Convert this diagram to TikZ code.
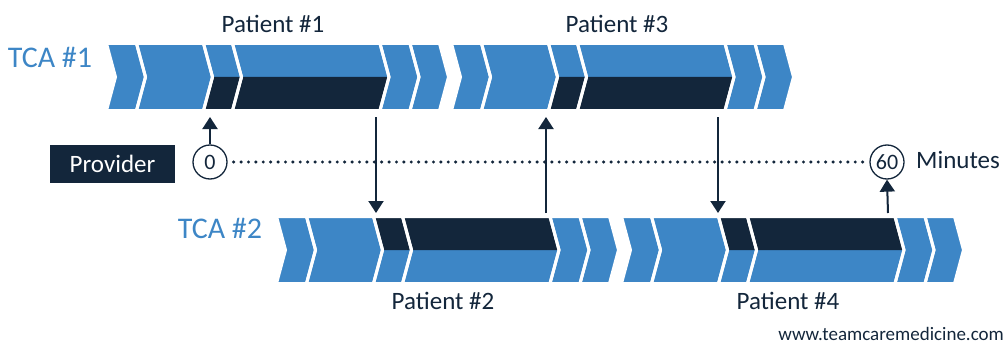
\documentclass[tikz,border=0pt]{standalone}
\usepackage{fontspec}
\setmainfont{Carlito}
\usetikzlibrary{arrows.meta}

\definecolor{tcablue}{HTML}{3D86C6}
\definecolor{navy}{HTML}{13263B}

\tikzset{
  chevfill/.style={fill=tcablue},
  chevdark/.style={fill=navy},
  chevgap/.style={draw=white, line width=3pt},
  tcalabel/.style={text=tcablue, font=\fontsize{30}{34}\selectfont, inner sep=0pt, anchor=base},
  patlabel/.style={text=navy, font=\fontsize{25}{30}\selectfont, inner sep=0pt, anchor=base},
  provbox/.style={fill=navy, text=white, minimum width=125pt, minimum height=38pt,
                  inner sep=0pt, font=\fontsize{25}{30}\selectfont},
  tick/.style={circle, draw=navy, line width=1.3pt, minimum size=34pt, inner sep=0pt,
               text=navy, font=\fontsize{22}{26}\selectfont},
  timeline/.style={draw=navy, line width=3.4pt, line cap=round, dash pattern=on 0pt off 7.4pt},
  handoff/.style={draw=navy, line width=2pt, -{Triangle[width=15pt,length=12pt]}},
}

\begin{document}
\begin{tikzpicture}[x=1pt, y=-1pt]
  \useasboundingbox (0,0) rectangle (1007,345);
  \def\dep{9}

  % chevron bands: group start x, top y, bottom y, row number
  \foreach \gx/\ty/\by/\row in {108/43.5/110.5/1, 453/43.5/110.5/1,
                                278/216.5/283.5/2, 623/216.5/283.5/2} {
    \pgfmathsetmacro\ym{(\ty+\by)/2}
    % fills first
    \foreach \a/\b/\split in {-1.5/28.5/0, 28.5/95.5/0, 95.5/124.5/1,
                              124.5/272/1, 272/302/0, 302/331.5/0} {
      \pgfmathsetmacro\xa{\gx+\a}
      \pgfmathsetmacro\xb{\gx+\b}
      \fill[chevfill] (\xa,\ty) -- (\xb,\ty) -- ({\xb+\dep},\ym) -- (\xb,\by)
                      -- (\xa,\by) -- ({\xa+\dep},\ym) -- cycle;
      \ifnum\split=1
        \ifnum\row=1
          \fill[chevdark] ({\xa+\dep},\ym) -- ({\xb+\dep},\ym) -- (\xb,\by) -- (\xa,\by) -- cycle;
        \else
          \fill[chevdark] (\xa,\ty) -- (\xb,\ty) -- ({\xb+\dep},\ym) -- ({\xa+\dep},\ym) -- cycle;
        \fi
      \fi
    }
    % white gaps between chevrons
    \foreach \a/\b in {-1.5/28.5, 28.5/95.5, 95.5/124.5, 124.5/272, 272/302, 302/331.5} {
      \pgfmathsetmacro\xa{\gx+\a}
      \pgfmathsetmacro\xb{\gx+\b}
      \draw[chevgap] (\xa,\ty) -- (\xb,\ty) -- ({\xb+\dep},\ym) -- (\xb,\by)
                     -- (\xa,\by) -- ({\xa+\dep},\ym) -- cycle;
    }
  }

  % row and patient labels
  \node[tcalabel] (tca1) at (50,67) {TCA \#1};
  \node[tcalabel] (tca2) at (220,238) {TCA \#2};
  \node[patlabel] (p1) at (273,33) {Patient \#1};
  \node[patlabel] (p3) at (617,33) {Patient \#3};
  \node[patlabel] (p2) at (443,309) {Patient \#2};
  \node[patlabel] (p4) at (788,309) {Patient \#4};

  % provider timeline
  \node[provbox] (prov) at (112.5,164) {Provider};
  \node[tick] (c0) at (210,162) {0};
  \node[tick] (c60) at (887,162) {60};
  \node[patlabel, anchor=base west] (mins) at (916,168) {Minutes};
  \draw[timeline] ([xshift=6pt]c0.east) -- ([xshift=-5pt]c60.west);

  % hand-off points on the two bands
  \coordinate (r1a) at (210,117);
  \coordinate (r1b) at (376,117);
  \coordinate (r1c) at (546,117);
  \coordinate (r1d) at (718,117);
  \coordinate (r2b) at (376,213);
  \coordinate (r2c) at (546,213);
  \coordinate (r2d) at (718,213);
  \coordinate (r2e) at (888,213);

  \draw[handoff] (c0.north) -- (r1a);
  \draw[handoff] (r1b) -- (r2b);
  \draw[handoff] (r2c) -- (r1c);
  \draw[handoff] (r1d) -- (r2d);
  \draw[handoff] (r2e) -- (c60.south);

  % footer
  \node[text=navy, font=\fontsize{19}{22}\selectfont, inner sep=0pt, anchor=base east]
    (url) at (1004,340) {www.teamcaremedicine.com};
\end{tikzpicture}
\end{document}
